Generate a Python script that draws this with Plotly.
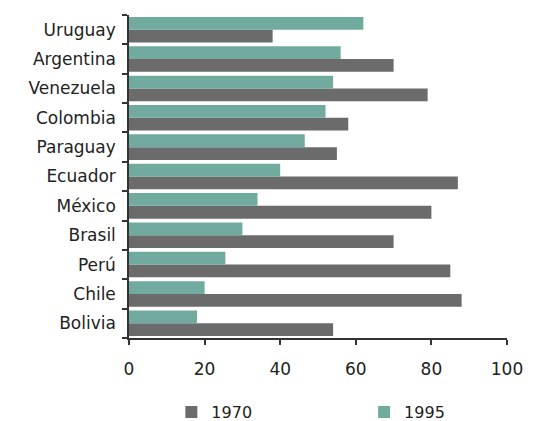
import plotly.graph_objects as go

# Countries listed bottom-to-top so Uruguay ends up at the top of the chart
countries = ["Bolivia", "Chile", "Perú", "Brasil", "México", "Ecuador",
             "Paraguay", "Colombia", "Venezuela", "Argentina", "Uruguay"]
values_1970 = [54, 88, 85, 70, 80, 87, 55, 58, 79, 70, 38]
values_1995 = [18, 20, 25.5, 30, 34, 40, 46.5, 52, 54, 56, 62]
x_ticks = [0, 20, 40, 60, 80, 100]

GRAY = "#6b6b6b"
TEAL = "#71ab9f"
FONT = "DejaVu Sans, Arial, sans-serif"

fig = go.Figure()
fig.add_trace(go.Bar(y=countries, x=values_1970, name="1970", orientation="h",
                     marker=dict(color=GRAY, line=dict(width=0)),
                     legend="legend", showlegend=True))
fig.add_trace(go.Bar(y=countries, x=values_1995, name="1995", orientation="h",
                     marker=dict(color=TEAL, line=dict(width=0)),
                     legend="legend2", showlegend=True))

legend_style = dict(orientation="h", yref="container", yanchor="middle", y=0.021,
                    xanchor="left", bgcolor="rgba(0,0,0,0)",
                    font=dict(size=16, color="#222"), itemwidth=30)

fig.update_layout(
    width=534, height=421,
    margin=dict(l=129, r=27, t=15, b=83, autoexpand=False),
    paper_bgcolor="white", plot_bgcolor="white",
    font=dict(family=FONT, size=17, color="#222"),
    showlegend=True,
    barmode="group", bargap=0.13, bargroupgap=0,
    legend=dict(x=0.112, **legend_style),
    legend2=dict(x=0.622, **legend_style),
    xaxis=dict(range=[0, 100], tickvals=x_ticks, showgrid=False, zeroline=False,
               showline=True, linecolor="#333", linewidth=1.5,
               ticks="outside", ticklen=5, tickcolor="#333", tickwidth=1.5,
               ticklabelstandoff=10, tickfont=dict(size=17, color="#222")),
    yaxis=dict(showgrid=False, showline=True, linecolor="#333", linewidth=1.5,
               ticks="outside", ticklen=5, tickcolor="#333", tickwidth=1.5,
               tickson="boundaries", ticklabelstandoff=8,
               tickfont=dict(size=17, color="#222")),
)

fig.write_html("out.html")
